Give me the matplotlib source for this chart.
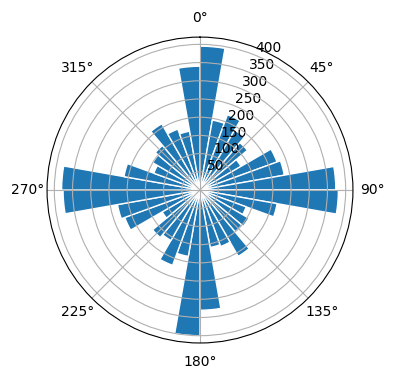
import numpy as np
import matplotlib
matplotlib.use('Agg')
import matplotlib.pyplot as plt

# 36 direction bins (degrees, left edge) and counts
bin_start_deg = list(range(0, 360, 10))
counts = [395, 195, 220, 190, 170, 130, 225, 235, 373,
          380, 215, 135, 155, 150, 210, 165, 160, 330,
          400, 185, 220, 160, 170, 120, 220, 230, 376,
          380, 212, 135, 150, 160, 210, 178, 164, 340]

theta = np.deg2rad(bin_start_deg)
width = np.deg2rad(10)

fig = plt.figure(figsize=(3.96, 3.80), dpi=100)
ax = fig.add_axes([0.1187, 0.0974, 0.7727, 0.805], projection='polar')
ax.set_theta_zero_location('N')
ax.set_theta_direction(-1)

ax.bar(theta, counts, width=width, align='edge', color='#1f77b4',
       edgecolor='white', linewidth=1)

ax.set_ylim(0, 420)
ax.set_yticks(np.arange(50, 401, 50))

fig.savefig('out.png', dpi=100)
